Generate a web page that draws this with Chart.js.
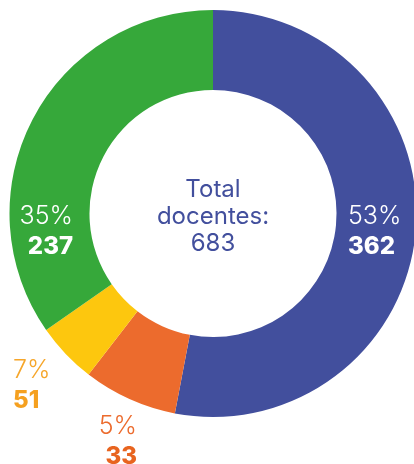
<!DOCTYPE html>
<html>
<head>
<meta charset="utf-8">
<script src="https://cdn.jsdelivr.net/npm/chart.js@4.4.1/dist/chart.umd.min.js"></script>
<style>
  html, body { margin: 0; padding: 0; background: #fff; overflow: hidden; }
  #wrap { width: 417px; height: 464px; }
</style>
</head>
<body>
<div id="wrap"><canvas id="chart-1"></canvas></div>
<script>
// Data (segment sizes as drawn, clockwise from top)
const categories = ['Azul', 'Naranja', 'Amarillo', 'Verde'];
const values = [362, 51, 33, 237];
const colors = ['#424F9D', '#EC6B2D', '#FDC70E', '#36A83A'];

// Label texts as printed on the chart
const percentLabels = ['53%', '5%', '7%', '35%'];
const countLabels = ['362', '33', '51', '237'];
const centerLines = ['Total', 'docentes:', '683'];

// where each label sits, relative to the chart centre
const labelStyle = [
    { dx: 135, dy: 10, align: 'left', pctColor: '#ffffff', numColor: '#ffffff' },
    { dx: -76, dy: 220, align: 'right', pctColor: '#EC6B2D', numColor: '#E8641F' },
    { dx: -200, dy: 164, align: 'left', pctColor: '#F6A62A', numColor: '#F5A01F' },
    { dx: -140, dy: 10, align: 'right', pctColor: '#ffffff', numColor: '#ffffff' },
];

const FONT = 'Inter, "DejaVu Sans", sans-serif';

const labelPlugin = {
    id: 'labels',
    afterDraw(chart) {
        const ctx = chart.ctx;
        const arc = chart.getDatasetMeta(0).data[0];
        const cx = arc.x, cy = arc.y;

        ctx.save();
        ctx.textBaseline = 'alphabetic';
        percentLabels.forEach((pct, i) => {
            const s = labelStyle[i];
            ctx.textAlign = s.align;
            ctx.fillStyle = s.pctColor;
            ctx.font = '300 25px ' + FONT;
            ctx.fillText(pct, cx + s.dx, cy + s.dy);
            ctx.fillStyle = s.numColor;
            ctx.font = '800 24px ' + FONT;
            ctx.fillText(countLabels[i], cx + s.dx, cy + s.dy + 30);
        });

        // centre text
        ctx.textAlign = 'center';
        ctx.fillStyle = '#424F9D';
        ctx.font = '400 24px ' + FONT;
        centerLines.forEach((line, i) => {
            ctx.fillText(line, cx, cy - 17 + i * 27);
        });
        ctx.restore();
    }
};

const data1 = {
    labels: categories,
    datasets: [{
        data: values,
        backgroundColor: colors,
        borderWidth: 0,
    }],
};

const config1 = {
    type: 'doughnut',
    data: data1,
    options: {
        responsive: true,
        maintainAspectRatio: false,
        animation: false,
        cutout: '60.7%',
        layout: {
            padding: { top: 10, bottom: 47, left: 9, right: 0 }
        },
        plugins: {
            legend: { display: false },
            tooltip: { enabled: false },
        }
    },
    plugins: [labelPlugin],
};

const context1 = document.getElementById('chart-1').getContext('2d');
const chart1 = new Chart(context1, config1);
</script>
</body>
</html>
